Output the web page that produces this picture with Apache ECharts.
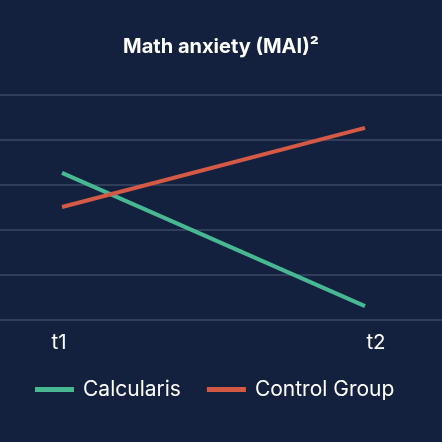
<!DOCTYPE html>
<html>
<head>
<meta charset="utf-8">
<script src="https://cdn.jsdelivr.net/npm/echarts@6/dist/echarts.min.js"></script>
<style>
html,body{margin:0;padding:0;background:#13213f;}
#c{width:442px;height:442px;}
</style>
</head>
<body>
<div id="c"></div>
<script>
var categories = ['t1', 't2'];
var calcularis = [3.27, 0.31];
var controlGroup = [2.51, 4.27];
var seriesNames = ['Calcularis', 'Control Group'];

var chart = echarts.init(document.getElementById('c'), null, {renderer: 'canvas'});
var font = 'Inter, "Noto Sans", sans-serif';
function pts(arr){ return arr.map(function(v,i){ return [i, v]; }); }

chart.setOption({
  backgroundColor: '#13213f',
  animation: false,
  title: {
    text: 'Math anxiety (MAI)²',
    left: 'center',
    top: 32,
    textStyle: {color: '#ffffff', fontFamily: font, fontWeight: 'bold', fontSize: 20}
  },
  legend: {
    left: 35,
    top: 379,
    padding: 0,
    itemWidth: 39,
    itemHeight: 5,
    itemGap: 26,
    icon: 'rect',
    textStyle: {color: '#ffffff', fontFamily: font, fontSize: 21, padding: [0, 0, 0, 4]},
    data: seriesNames
  },
  grid: {left: 0, right: 0, top: 95, bottom: 122},
  xAxis: {
    type: 'value',
    min: -62 / 303,
    max: 1 + 77 / 303,
    axisLine: {show: false},
    axisTick: {show: false},
    splitLine: {show: false},
    axisLabel: {
      customValues: [0, 1],
      margin: 12,
      formatter: function(v){
        var i = Math.round(v);
        return i === 0 ? '{a|' + categories[i] + '}' : '{b|' + categories[i] + '}';
      },
      rich: {
        a: {color: '#ffffff', fontFamily: font, fontSize: 20.5, padding: [0, 6, 0, 0]},
        b: {color: '#ffffff', fontFamily: font, fontSize: 20.5, padding: [0, 0, 0, 22]}
      }
    }
  },
  yAxis: {
    type: 'value',
    min: 0,
    max: 5,
    interval: 1,
    axisLabel: {show: false},
    axisLine: {show: false},
    axisTick: {show: false},
    splitLine: {show: true, lineStyle: {color: '#3c4864', width: 1.5}}
  },
  series: [
    {name: seriesNames[0], type: 'line', data: pts(calcularis), symbol: 'none',
     lineStyle: {color: '#47b892', width: 4}, itemStyle: {color: '#47b892'}},
    {name: seriesNames[1], type: 'line', data: pts(controlGroup), symbol: 'none',
     lineStyle: {color: '#d45a45', width: 4}, itemStyle: {color: '#d45a45'}}
  ]
});
</script>
</body>
</html>
